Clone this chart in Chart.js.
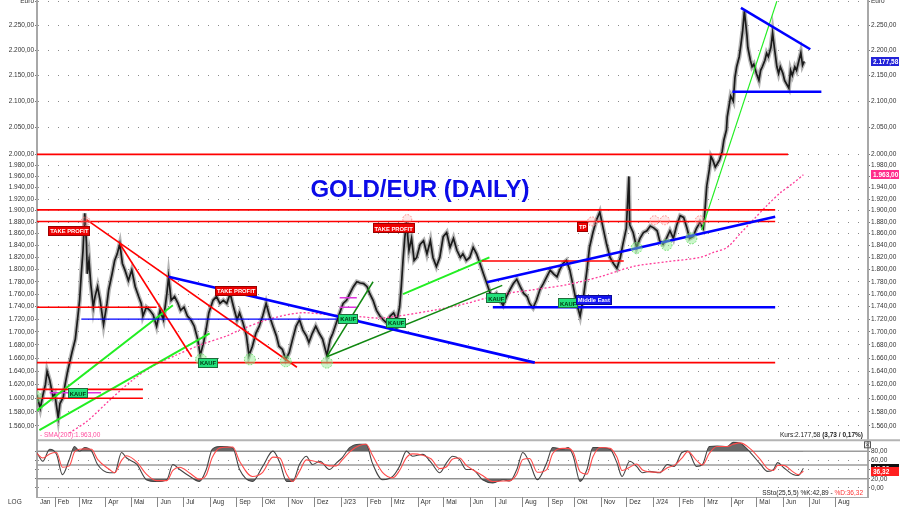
<!DOCTYPE html>
<html><head><meta charset="utf-8">
<script src="https://cdn.jsdelivr.net/npm/chart.js@4.4.1/dist/chart.umd.min.js"></script>
<style>html,body{margin:0;padding:0;background:#fff;}canvas{display:block;}</style>
</head><body>
<canvas id="c" width="900" height="507" style="width:900px;height:507px"></canvas>
<script>
// ---------- DATA ----------
const priceDates = ['2022-01-11','2022-01-15','2022-01-18','2022-01-21','2022-01-23','2022-01-26','2022-01-30','2022-02-01','2022-02-05','2022-02-07','2022-02-11','2022-02-13','2022-02-16','2022-02-21','2022-02-25','2022-02-28','2022-03-02','2022-03-04','2022-03-06','2022-03-08','2022-03-10','2022-03-11','2022-03-13','2022-03-15','2022-03-18','2022-03-20','2022-03-23','2022-03-26','2022-03-30','2022-04-03','2022-04-05','2022-04-09','2022-04-12','2022-04-15','2022-04-18','2022-04-21','2022-04-24','2022-04-28','2022-05-02','2022-05-06','2022-05-10','2022-05-13','2022-05-15','2022-05-19','2022-05-23','2022-05-27','2022-05-31','2022-06-04','2022-06-08','2022-06-12','2022-06-14','2022-06-17','2022-06-21','2022-06-25','2022-06-28','2022-07-02','2022-07-06','2022-07-10','2022-07-14','2022-07-18','2022-07-21','2022-07-25','2022-07-28','2022-07-31','2022-08-05','2022-08-09','2022-08-13','2022-08-17','2022-08-21','2022-08-25','2022-08-29','2022-09-02','2022-09-05','2022-09-09','2022-09-13','2022-09-16','2022-09-20','2022-09-24','2022-09-28','2022-10-02','2022-10-06','2022-10-10','2022-10-14','2022-10-18','2022-10-21','2022-10-25','2022-10-29','2022-11-02','2022-11-06','2022-11-10','2022-11-14','2022-11-18','2022-11-22','2022-11-25','2022-11-29','2022-12-03','2022-12-07','2022-12-11','2022-12-16','2022-12-20','2022-12-23','2022-12-27','2022-12-31','2023-01-04','2023-01-08','2023-01-12','2023-01-16','2023-01-20','2023-01-24','2023-01-28','2023-02-01','2023-02-04','2023-02-08','2023-02-12','2023-02-16','2023-02-20','2023-02-24','2023-02-28','2023-03-04','2023-03-08','2023-03-11','2023-03-13','2023-03-15','2023-03-17','2023-03-19','2023-03-22','2023-03-25','2023-03-28','2023-03-31','2023-04-04','2023-04-08','2023-04-12','2023-04-16','2023-04-19','2023-04-23','2023-04-27','2023-05-01','2023-05-05','2023-05-09','2023-05-13','2023-05-17','2023-05-21','2023-05-24','2023-05-28','2023-06-01','2023-06-05','2023-06-09','2023-06-13','2023-06-17','2023-06-21','2023-06-25','2023-06-28','2023-07-02','2023-07-06','2023-07-10','2023-07-14','2023-07-18','2023-07-22','2023-07-26','2023-07-30','2023-08-03','2023-08-07','2023-08-10','2023-08-14','2023-08-18','2023-08-22','2023-08-26','2023-08-30','2023-09-03','2023-09-07','2023-09-11','2023-09-14','2023-09-18','2023-09-22','2023-09-26','2023-09-30','2023-10-04','2023-10-08','2023-10-12','2023-10-16','2023-10-19','2023-10-23','2023-10-27','2023-10-31','2023-11-04','2023-11-08','2023-11-12','2023-11-16','2023-11-20','2023-11-24','2023-11-27','2023-12-01','2023-12-04','2023-12-05','2023-12-09','2023-12-13','2023-12-17','2023-12-21','2023-12-25','2023-12-29','2024-01-02','2024-01-06','2024-01-09','2024-01-13','2024-01-17','2024-01-21','2024-01-25','2024-01-29','2024-02-02','2024-02-06','2024-02-10','2024-02-13','2024-02-17','2024-02-21','2024-02-25','2024-02-29','2024-03-02','2024-03-04','2024-03-07','2024-03-09','2024-03-11','2024-03-14','2024-03-16','2024-03-19','2024-03-22','2024-03-24','2024-03-27','2024-03-28','2024-03-30','2024-04-01','2024-04-04','2024-04-06','2024-04-08','2024-04-11','2024-04-13','2024-04-15','2024-04-17','2024-04-20','2024-04-21','2024-04-24','2024-04-26','2024-04-28','2024-05-01','2024-05-04','2024-05-06','2024-05-08','2024-05-11','2024-05-13','2024-05-15','2024-05-18','2024-05-20','2024-05-22','2024-05-25','2024-05-27','2024-05-29','2024-06-01','2024-06-03','2024-06-05','2024-06-08','2024-06-10','2024-06-12','2024-06-15','2024-06-17','2024-06-19','2024-06-22','2024-06-24','2024-06-26'];
const priceClose = [1605,1585,1604,1620,1640,1627,1602,1606,1572,1592,1602,1620,1640,1668,1689,1725,1750,1793,1832,1895,1844,1793,1815,1777,1739,1756,1772,1750,1712,1745,1767,1793,1815,1826,1843,1810,1799,1782,1799,1772,1756,1745,1725,1739,1734,1727,1709,1734,1719,1761,1788,1750,1756,1745,1734,1739,1725,1719,1709,1689,1664,1684,1705,1730,1750,1756,1745,1750,1745,1761,1739,1719,1730,1714,1694,1664,1678,1698,1709,1725,1745,1725,1709,1694,1678,1673,1658,1668,1689,1709,1719,1703,1694,1684,1698,1709,1698,1689,1664,1689,1698,1714,1730,1745,1750,1761,1772,1780,1778,1777,1772,1761,1750,1734,1725,1719,1714,1725,1730,1719,1739,1772,1815,1852,1880,1832,1852,1815,1820,1842,1848,1826,1848,1820,1805,1820,1855,1862,1837,1852,1832,1820,1826,1815,1820,1837,1826,1810,1793,1777,1761,1756,1761,1750,1742,1756,1767,1777,1784,1772,1761,1756,1745,1738,1750,1767,1777,1788,1799,1793,1788,1799,1810,1815,1799,1772,1745,1725,1756,1799,1837,1862,1883,1897,1869,1842,1820,1810,1802,1820,1842,1869,1960,1875,1862,1837,1852,1862,1865,1873,1870,1865,1848,1842,1852,1865,1852,1875,1891,1888,1869,1852,1855,1869,1879,1869,1901,1943,1972,1996,1990,1977,1982,1990,2005,2026,2045,2070,2090,2110,2100,2146,2167,2187,2212,2240,2280,2230,2206,2180,2167,2172,2154,2140,2160,2167,2180,2194,2187,2206,2235,2206,2167,2154,2167,2154,2140,2134,2125,2160,2150,2167,2160,2174,2195,2170,2177.58];

const smaDates = ['2022-02-18','2022-03-10','2022-04-06','2022-05-03','2022-05-27','2022-06-24','2022-07-21','2022-08-21','2022-09-05','2022-10-07','2022-11-14','2022-12-19','2023-01-23','2023-02-19','2023-04-19','2023-05-28','2023-07-06','2023-08-14','2023-09-22','2023-10-31','2023-12-09','2024-01-18','2024-02-25','2024-03-11','2024-03-28','2024-04-12','2024-04-27','2024-05-13','2024-05-29','2024-06-13','2024-06-25'];
const smaValues = [1550,1566,1597,1627,1648,1665,1680,1694,1703,1719,1730,1727,1724,1722,1734,1745,1759,1767,1775,1788,1805,1813,1820,1828,1837,1860,1883,1908,1931,1948,1963];

const stochDates = ['2022-01-11','2022-01-18','2022-01-26','2022-02-03','2022-02-10','2022-02-18','2022-02-24','2022-03-02','2022-03-08','2022-03-16','2022-03-23','2022-04-06','2022-04-12','2022-04-20','2022-04-26','2022-05-08','2022-05-19','2022-05-31','2022-06-12','2022-06-19','2022-06-27','2022-07-09','2022-07-20','2022-07-28','2022-08-04','2022-08-13','2022-08-28','2022-09-05','2022-09-20','2022-10-02','2022-10-14','2022-10-22','2022-10-30','2022-11-06','2022-11-14','2022-11-22','2022-11-29','2022-12-08','2022-12-19','2022-12-27','2023-01-03','2023-01-12','2023-01-23','2023-01-31','2023-02-07','2023-02-19','2023-03-03','2023-03-11','2023-03-19','2023-03-26','2023-04-07','2023-04-17','2023-04-27','2023-05-05','2023-05-12','2023-05-20','2023-05-28','2023-06-04','2023-06-16','2023-06-28','2023-07-10','2023-07-18','2023-07-26','2023-08-02','2023-08-10','2023-08-19','2023-08-30','2023-09-06','2023-09-18','2023-09-24','2023-09-30','2023-10-08','2023-10-16','2023-10-23','2023-10-31','2023-11-12','2023-11-20','2023-11-26','2023-12-05','2023-12-13','2023-12-20','2023-12-28','2024-01-09','2024-01-18','2024-01-26','2024-02-04','2024-02-11','2024-02-21','2024-02-28','2024-03-07','2024-03-16','2024-03-28','2024-04-04','2024-04-12','2024-04-24','2024-05-06','2024-05-14','2024-05-21','2024-05-26','2024-06-02','2024-06-13','2024-06-19','2024-06-25'];
const stochK = [77,58,84,73,29,62,90,80,88,80,51,33,33,77,65,51,18,14,18,51,40,25,14,40,84,90,87,40,14,47,80,55,14,14,51,69,51,58,40,54,66,88,95,95,55,18,25,47,80,69,73,55,33,55,69,62,40,40,18,11,18,15,40,77,55,18,55,88,84,88,69,14,40,88,88,84,55,25,58,47,33,36,33,51,47,77,80,47,51,90,91,90,99,97,77,51,36,40,55,44,29,27,42.89];
const stochD = [75,65,74,77,45,48,78,84,85,84,62,40,33,60,70,56,30,16,16,38,45,32,19,28,66,87,89,58,25,34,67,65,30,14,36,61,59,55,48,48,61,79,92,95,72,34,22,38,66,74,71,63,42,46,63,65,49,40,27,14,15,16,30,62,64,34,40,75,86,86,77,35,30,68,88,86,67,38,45,52,39,35,34,44,49,65,79,60,50,75,90,90,95,98,85,61,42,38,49,49,35,29,36.32];

const priceTicks = [1560,1580,1600,1620,1640,1660,1680,1700,1720,1740,1760,1780,1800,1820,1840,1860,1880,1900,1920,1940,1960,1980,2000,2050,2100,2150,2200,2250,2300];
const stochTicks = [0,20,40,60,80];
const stochLevels = [80,50,20];
const monthStarts = ['2022-02-01','2022-03-01','2022-04-01','2022-05-01','2022-06-01','2022-07-01','2022-08-01','2022-09-01','2022-10-01','2022-11-01','2022-12-01','2023-01-01','2023-02-01','2023-03-01','2023-04-01','2023-05-01','2023-06-01','2023-07-01','2023-08-01','2023-09-01','2023-10-01','2023-11-01','2023-12-01','2024-01-01','2024-02-01','2024-03-01','2024-04-01','2024-05-01','2024-06-01','2024-07-01','2024-08-01'];
const monthLabels = ['Feb','Mrz','Apr','Mai','Jun','Jul','Aug','Sep','Okt','Nov','Dez','J/23','Feb','Mrz','Apr','Mai','Jun','Jul','Aug','Sep','Okt','Nov','Dez','J/24','Feb','Mrz','Apr','Mai','Jun','Jul','Aug'];

// drawn lines: [fromDate, fromValue, toDate, toValue]
const redLines = [
  ['2022-01-11',2000,'2024-06-07',2000],
  ['2022-01-11',1901,'2024-05-23',1901],
  ['2022-01-11',1881,'2024-05-23',1881],
  ['2022-01-11',1739,'2022-05-31',1739],
  ['2022-01-11',1653,'2024-05-23',1653],
  ['2022-01-11',1613,'2022-05-15',1613],
  ['2022-01-11',1600,'2022-05-15',1600],
  ['2023-06-15',1814,'2023-11-28',1814],
  ['2022-03-10',1884,'2022-11-11',1646],
  ['2022-04-18',1843,'2022-07-11',1662]
];
const blueThickLines = [
  ['2023-06-28',1739,'2024-05-23',1739],
  ['2024-04-03',2118,'2024-07-16',2118],
  ['2022-06-14',1788,'2023-08-16',1653],
  ['2023-06-21',1779,'2024-05-23',1889],
  ['2024-04-13',2287,'2024-07-03',2202]
];
const blueThinLines = [['2022-03-04',1720,'2022-12-28',1720]];
const limeLines = [
  ['2022-01-11',1582,'2022-06-19',1742],
  ['2022-01-14',1554,'2022-08-01',1698],
  ['2023-03-15',1760,'2023-06-24',1820]
];
const limeThinLines = [['2024-02-27',1866,'2024-05-25',2301]];
const darkGreenLines = [
  ['2022-12-16',1662,'2023-02-08',1780],
  ['2022-12-16',1662,'2023-07-09',1774]
];
const magentaLines = [
  ['2022-01-26',1608,'2022-03-27',1608],
  ['2022-12-31',1754,'2023-01-20',1754],
  ['2022-12-31',1739,'2023-01-20',1739]
];
const signals = [
  ['2022-02-18',1864,'TAKE PROFIT','tp'],
  ['2022-09-01',1765,'TAKE PROFIT','tp'],
  ['2023-03-04',1869,'TAKE PROFIT','tp'],
  ['2023-10-11',1872,'TP','tp'],
  ['2022-02-28',1607,'KAUF','buy'],
  ['2022-07-30',1652,'KAUF','buy'],
  ['2023-01-10',1720,'KAUF','buy'],
  ['2023-03-07',1714,'KAUF','buy'],
  ['2023-07-02',1753,'KAUF','buy'],
  ['2023-09-24',1745,'KAUF','buy'],
  ['2023-10-24',1750,'Middle East','news']
];
const topCircles = [['2022-03-09',1881],['2023-03-20',1885],['2023-10-22',1881],['2024-01-03',1883],['2024-01-15',1883],['2024-02-25',1883]];
const bottomCircles = [['2022-01-10',1602],['2022-07-22',1658],['2022-09-17',1658],['2022-10-29',1655],['2022-12-16',1653],['2023-12-13',1836],['2024-01-17',1841],['2024-02-15',1852]];
const lastPrice = 2177.58, lastSma = 1963.00, lastK = 42.89, lastD = 36.32;

// ---------- HELPERS ----------
const BASE = Date.UTC(2022,0,1);
const dayOf = s => { const p = s.split('-').map(Number); return (Date.UTC(p[0],p[1]-1,p[2]) - BASE) / 86400000; };
const fmt = v => { const s = v.toFixed(2).split('.'); return s[0].replace(/\B(?=(\d{3})+(?!\d))/g,'.') + ',' + s[1]; };
const FONT = 'Liberation Sans, Arial, sans-serif';
const X_MIN = 10.2, X_MAX = 981.5;
const tickMap = {}; monthStarts.forEach((d,i)=>{ tickMap[dayOf(d)] = monthLabels[i]; }); tickMap[X_MIN] = 'Jan';

function lineSets(list, color, width, order, dash) {
  return list.map(l => ({ data:[{x:dayOf(l[0]),y:l[1]},{x:dayOf(l[2]),y:l[3]}], borderColor:color, borderWidth:width, borderDash:dash||[], pointRadius:0, yAxisID:'y', order:order, tension:0 }));
}
const pricePoints = priceDates.map((d,i)=>({x:dayOf(d),y:priceClose[i]}));

const datasets = [
  ...lineSets(redLines,'#ff0000',1.6,4),
  ...lineSets(blueThickLines,'#0000ff',2.6,3),
  ...lineSets(blueThinLines,'#0000ff',1.2,3),
  ...lineSets(limeLines,'#22ee22',2,4),
  ...lineSets(limeThinLines,'#22ee22',1.2,4),
  ...lineSets(darkGreenLines,'#118811',1.5,4),
  ...lineSets(magentaLines,'#dd33dd',1.5,4),
  { data: pricePoints, borderColor:'#1a1a1a', borderWidth:1.7, pointRadius:0, tension:0, yAxisID:'y', order:20 },
  { data: pricePoints, borderColor:'rgba(120,120,120,0.55)', borderWidth:4.5, pointRadius:0, tension:0, yAxisID:'y', order:21 },
  { data: smaDates.map((d,i)=>({x:dayOf(d),y:smaValues[i]})), borderColor:'#ff3d9a', borderWidth:1.3, borderDash:[2,2], pointRadius:0, tension:0.3, yAxisID:'y', order:19 },
  { data: stochDates.map((d,i)=>({x:dayOf(d),y:stochK[i]})), borderColor:'#444', borderWidth:1.1, pointRadius:0, cubicInterpolationMode:'monotone', yAxisID:'yS', order:8,
    fill:{target:{value:80}, above:'rgba(90,90,90,0.9)', below:'rgba(0,0,0,0)'} },
  { data: stochDates.map((d,i)=>({x:dayOf(d),y:stochK[i]})), borderWidth:0, borderColor:'rgba(0,0,0,0)', pointRadius:0, cubicInterpolationMode:'monotone', yAxisID:'yS', order:9,
    fill:{target:{value:20}, above:'rgba(0,0,0,0)', below:'rgba(90,90,90,0.9)'} },
  { data: stochDates.map((d,i)=>({x:dayOf(d),y:stochD[i]})), borderColor:'#ff4a4a', borderWidth:1.1, pointRadius:0, cubicInterpolationMode:'monotone', yAxisID:'yS', order:7 }
];

const tickFont = {family:FONT, size:6.5};
function yAxis(pos, draw) {
  return { type:'logarithmic', position:pos, stack:pos, stackWeight:439.3, min:1541, max:2303.5, bounds:'data',
    afterBuildTicks: s => { s.ticks = priceTicks.map(v=>({value:v})); },
    afterFit: s => { s.width = pos==='left'?37:32; s.paddingTop=0; s.paddingBottom=0; },
    ticks:{ autoSkip:false, font:tickFont, color:'#333', padding:1, callback: v => v===2300 ? 'Euro' : fmt(v) },
    grid:{ drawOnChartArea:draw, color:'#8a8a8a', lineWidth:1, tickLength:2, tickColor:'#777', tickBorderDash:[] },
    border:{ display:true, color:'#a8a8a8', width:2, dash:[1,9] } };
}
function sAxis(pos) {
  return { type:'linear', position:pos, stack:pos, stackWeight:57.7, min:-19.6, max:105.7, bounds:'data',
    afterBuildTicks: s => { s.ticks = stochTicks.map(v=>({value:v})); },
    afterFit: s => { s.width = pos==='left'?37:32; s.paddingTop=0; s.paddingBottom=0; },
    ticks:{ display:pos==='right', autoSkip:false, font:tickFont, color:'#333', padding:1, callback: v => fmt(v) },
    grid:{ drawOnChartArea:pos==='left', color:'#8a8a8a', lineWidth:1, tickLength:2, tickColor:'#777', tickBorderDash:[] },
    border:{ display:true, color:'#a8a8a8', width:2, dash:[1,9] } };
}

function drawBox(ctx, cx, cy, text, bg, edge, fg, padX) {
  ctx.font = 'bold 5.8px ' + FONT;
  const w = Math.round(ctx.measureText(text).width + padX*2), h = 10;
  const x = Math.round(cx - w/2), y = Math.round(cy - h/2);
  ctx.fillStyle = bg; ctx.fillRect(x, y, w, h);
  ctx.strokeStyle = edge; ctx.lineWidth = 1; ctx.strokeRect(x+0.5, y+0.5, w-1, h-1);
  ctx.fillStyle = fg; ctx.textAlign='center'; ctx.textBaseline='middle';
  ctx.fillText(text, cx, cy+0.5);
}
function valueTag(ctx, x, cy, text, bg, fg) {
  ctx.font = 'bold 6.5px ' + FONT;
  const w = 28, h = 9;
  ctx.fillStyle = bg; ctx.fillRect(x, Math.round(cy-h/2), w, h);
  ctx.fillStyle = fg; ctx.textAlign='left'; ctx.textBaseline='middle';
  ctx.fillText(text, x+2, cy+0.5);
}

const overlay = {
  id:'overlay',
  beforeDatasetsDraw(chart) {
    const {ctx, chartArea:a, scales} = chart; const yS = scales.yS;
    ctx.save();
    ctx.strokeStyle = '#9c9c9c'; ctx.lineWidth = 1.5;
    stochLevels.forEach(v => { const py = yS.getPixelForValue(v); ctx.beginPath(); ctx.moveTo(a.left, py); ctx.lineTo(a.right, py); ctx.stroke(); });
    ctx.restore();
  },
  afterDatasetsDraw(chart) {
    const {ctx, chartArea:a, scales} = chart; const X = scales.x, Y = scales.y, yS = scales.yS;
    ctx.save();
    ctx.beginPath(); ctx.rect(a.left, Y.top, a.right-a.left, Y.bottom-Y.top); ctx.clip();
    const circ = (list, stroke, fill, r) => list.forEach(c => {
      const px = X.getPixelForValue(dayOf(c[0])), py = Y.getPixelForValue(c[1]);
      ctx.beginPath(); ctx.arc(px, py, r, 0, Math.PI*2); ctx.fillStyle = fill; ctx.fill();
      ctx.setLineDash([1.5,1.5]); ctx.strokeStyle = stroke; ctx.lineWidth = 1; ctx.stroke(); ctx.setLineDash([]);
    });
    circ(topCircles, '#ff8080', 'rgba(255,160,160,0.25)', 4.5);
    circ(bottomCircles, '#66dd66', 'rgba(140,235,140,0.45)', 5.5);
    signals.forEach(s => {
      const px = X.getPixelForValue(dayOf(s[0])), py = Y.getPixelForValue(s[1]);
      if (s[3]==='tp') drawBox(ctx, px, py, s[2], '#ee0000', '#990000', '#ffffff', 2);
      else if (s[3]==='buy') drawBox(ctx, px, py, s[2], '#22e07a', '#1f6b3a', '#003311', 2);
      else drawBox(ctx, px, py, s[2], '#1414ee', '#0a0a99', '#ffffff', 2);
    });
    ctx.restore();

    ctx.save();
    // title
    ctx.font = 'bold 24px ' + FONT; ctx.fillStyle = '#0b0be8'; ctx.textAlign='center'; ctx.textBaseline='middle';
    ctx.fillText('GOLD/EUR (DAILY)', 420, 190);
    // info texts
    ctx.font = '6.5px ' + FONT; ctx.textBaseline='middle';
    ctx.fillStyle = '#ff4d9e'; ctx.textAlign='left';
    ctx.fillText('- SMA(200):' + fmt(lastSma), a.left+3, Y.bottom-4);
    ctx.textAlign='right';
    ctx.font = 'bold 6.5px ' + FONT; ctx.fillStyle='#222';
    const part2 = '(3,73 / 0,17%)'; ctx.fillText(part2, a.right-5, Y.bottom-4);
    const w2 = ctx.measureText(part2).width;
    ctx.font = '6.5px ' + FONT; ctx.fillText('Kurs:' + fmt(lastPrice) + ' ', a.right-5-w2, Y.bottom-4);
    const dTxt = '%D:' + fmt(lastD);
    ctx.fillStyle = '#ff3333'; ctx.fillText(dTxt, a.right-5, a.bottom-3.5);
    const wD = ctx.measureText(dTxt).width;
    ctx.fillStyle = '#222'; ctx.fillText('SSto(25,5,5) %K:' + fmt(lastK) + ' - ', a.right-5-wD, a.bottom-3.5);
    // panel separator
    ctx.strokeStyle = '#b4b4b4'; ctx.lineWidth = 2;
    ctx.beginPath(); ctx.moveTo(a.left, yS.top+1); ctx.lineTo(chart.width, yS.top+1); ctx.stroke();
    // close box
    ctx.lineWidth = 1; ctx.strokeStyle = '#555'; ctx.strokeRect(a.right-3.5, yS.top+2.5, 6, 6);
    ctx.beginPath(); ctx.moveTo(a.right-2, yS.top+4); ctx.lineTo(a.right+1, yS.top+7); ctx.moveTo(a.right+1, yS.top+4); ctx.lineTo(a.right-2, yS.top+7); ctx.stroke();
    // value tags on right axis
    valueTag(ctx, a.right+3, Y.getPixelForValue(lastPrice), fmt(lastPrice), '#2323d8', '#ffffff');
    valueTag(ctx, a.right+3, Y.getPixelForValue(lastSma), fmt(lastSma), '#ff2e8c', '#ffffff');
    valueTag(ctx, a.right+3, yS.getPixelForValue(lastK), fmt(lastK), '#111111', '#ffffff');
    valueTag(ctx, a.right+3, yS.getPixelForValue(lastD), fmt(lastD), '#ff2020', '#ffffff');
    // x axis month tick marks
    ctx.strokeStyle = '#888'; ctx.lineWidth = 1;
    monthStarts.forEach(d => { const px = Math.round(X.getPixelForValue(dayOf(d)))+0.5; ctx.beginPath(); ctx.moveTo(px, a.bottom); ctx.lineTo(px, chart.height); ctx.stroke(); });
    ctx.font = '6.5px ' + FONT; ctx.fillStyle = '#333'; ctx.textAlign='left'; ctx.textBaseline='middle';
    ctx.fillText('LOG', 8, a.bottom + 5.5);
    ctx.restore();
  }
};

new Chart(document.getElementById('c'), {
  type:'line',
  data:{ datasets },
  options:{
    responsive:false, animation:false, devicePixelRatio:1,
    layout:{ padding:0 },
    plugins:{ legend:{display:false}, tooltip:{enabled:false} },
    scales:{
      x:{ type:'linear', position:'bottom', min:X_MIN, max:X_MAX, bounds:'data',
        afterBuildTicks: s => { s.ticks = [X_MIN, ...monthStarts.map(dayOf)].map(v=>({value:v})); },
        afterFit: s => { s.height = 10; s.paddingLeft = 0; s.paddingRight = 0; },
        ticks:{ autoSkip:false, maxRotation:0, align:'start', labelOffset:3, padding:1, font:tickFont, color:'#333', callback: v => tickMap[v] || '' },
        grid:{ drawOnChartArea:false, drawTicks:false },
        border:{ display:true, color:'#a8a8a8', width:1 } },
      yS: sAxis('left'),
      y: yAxis('left', true),
      y2: yAxis('right', false),
      yS2: sAxis('right')
    }
  },
  plugins:[overlay]
});
</script>
</body></html>
